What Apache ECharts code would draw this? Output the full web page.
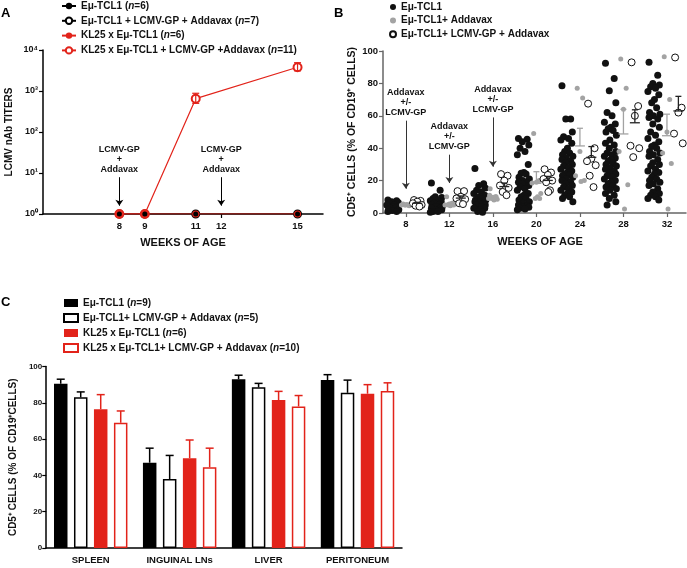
<!DOCTYPE html>
<html><head><meta charset="utf-8">
<script src="https://cdn.jsdelivr.net/npm/echarts@6/dist/echarts.min.js"></script>
<style>html,body{margin:0;padding:0;background:#fff}#c{width:687px;height:568px}</style>
</head><body><div id="c"></div>
<script>
// ---------- Panel A data ----------
const A_WEEKS = [8, 9, 11, 15];
const A_TCL1 = [1, 1, 1, 1];
const A_TCL1_VAX = [1, 1, 1, 1];
const A_KL25 = [1, 1, 1, 1];
const A_KL25_VAX = [1, 1, 650, 3800];
const A_KL25_VAX_LOW = [1, 1, 500, 3100];
const A_KL25_VAX_HIGH = [1, 1, 880, 4900];
const A_TICKS = [8, 9, 11, 12, 15];
const A_VACC_WEEKS = [8, 12];
const A_NAMES = ['Eμ-TCL1 ({i|n}=6)', 'Eμ-TCL1 + LCMV-GP + Addavax ({i|n}=7)', 'KL25 x Eμ-TCL1 ({i|n}=6)', 'KL25 x Eμ-TCL1 + LCMV-GP +Addavax ({i|n}=11)'];

// ---------- Panel B data ----------
const B_WEEKS = [8, 12, 16, 20, 24, 28, 32];
const B_TCL1 = [
  [8, 7.5, 7, 6.5, 6, 5, 5, 4, 4, 3, 3, 2, 2, 1.5, 1, 1],
  [18.5, 14, 10, 9.5, 9, 8, 7.5, 7, 6, 6, 5, 5, 4, 4, 3, 3, 2, 2, 1, 1, 0.5],
  [27.5, 18, 17, 15.5, 14, 13, 12, 11, 10, 9.5, 9, 8, 8, 7, 7, 6, 6, 5, 5, 4, 3, 3, 2, 1, 0.5],
  [46, 45.5, 44, 42, 40, 38, 36, 30, 25, 24.5, 24, 22, 21, 20, 19, 18.5, 18, 17, 16, 15, 14, 12, 11, 10, 9, 8, 7, 6, 5, 4.5, 4, 3.5, 3, 2.5, 2],
  [78.5, 58, 58, 50, 47, 46, 45, 43, 40, 38, 37, 36, 35, 34, 33, 32, 31, 30, 29, 28, 27, 26, 25, 24, 23.5, 23, 22, 21, 20, 19, 18, 17, 16, 15, 14, 13, 12, 11, 10, 9, 7],
  [92.5, 83, 75.5, 68, 62, 60, 56, 55, 53, 52, 51, 50, 48, 45, 43, 42, 40, 38, 37, 36, 35, 34, 33, 32, 31, 30, 29, 28, 27, 26, 25, 24, 23, 22, 21, 20, 19, 18, 17, 16, 15, 14, 12, 11, 9, 7, 5],
  [93, 85, 80, 79, 78, 77, 75, 73, 70, 68, 65, 62, 61, 60, 59, 58, 55, 53, 50, 48, 46, 44, 42, 41, 40, 38, 37, 36, 35, 33, 31, 30, 29, 27, 26, 25, 24, 22, 21, 20, 19, 18, 17, 15, 13, 12, 11, 10, 9, 8]
];
const B_VAX = [
  [5.5, 5, 5, 5, 4.8, 5.2, 5, 4.5],
  [10, 6, 5.5, 5, 5, 4.5, 5, 6],
  [15, 10, 9.5, 9, 8.5, 8, 9, 10, 11],
  [49, 20, 19, 18.5, 12, 10, 9, 9],
  [77, 71, 38, 23, 20, 19.5],
  [95, 77, 64, 38, 17.5, 2.5],
  [96.5, 70, 50, 37, 30.5, 2.5]
];
const B_GP = [
  [8, 7.5, 7, 6, 5, 4.5, 4],
  [13.5, 13.5, 10, 9, 8.5, 6, 5.5],
  [24, 23, 20, 17, 15.5, 13, 11],
  [27, 25, 23.5, 21, 20, 19, 14, 13],
  [67.5, 40, 33.5, 32, 29.5, 23, 16],
  [93, 66, 60, 41.5, 40, 34.5],
  [96, 65, 62, 49, 43]
];
const B_VAX_MEAN = [5, 5.5, 10, 18.3, 41.4, 48.8, 47.7];
const B_VAX_SEM = [0.3, 0.6, 0.8, 7.2, 10.9, 15.2, 13.3];
const B_GP_MEAN = [6, 9.2, 16.3, 20.1, 34.4, 55.7, 63];
const B_GP_SEM = [0.6, 1.3, 2.2, 2.5, 6.6, 8, 9];
const B_TICKS = [8, 12, 16, 20, 24, 28, 32];
const B_NAMES = ['Eμ-TCL1', 'Eμ-TCL1+ Addavax', 'Eμ-TCL1+ LCMV-GP + Addavax'];
const B_ARROWS = [[8, 57, 15], [12, 36, 18.5], [16, 59, 28.6]];

// ---------- Panel C data ----------
const C_CATS = ['SPLEEN', 'INGUINAL LNs', 'LIVER', 'PERITONEUM'];
const C_TCL1 = [90.5, 47, 93, 92.5];
const C_TCL1_SEM = [2.5, 8, 2.2, 3];
const C_TCL1_VAX = [83, 38, 88.5, 85.5];
const C_TCL1_VAX_SEM = [3, 13, 2.2, 7];
const C_KL25 = [76.5, 49.5, 81.5, 85];
const C_KL25_SEM = [8, 10, 4.8, 5];
const C_KL25_VAX = [69, 44.5, 78, 86.5];
const C_KL25_VAX_SEM = [6.5, 10.5, 6, 4.5];
const C_NAMES = ['Eμ-TCL1 ({i|n}=9)', 'Eμ-TCL1+ LCMV-GP + Addavax ({i|n}=5)', 'KL25 x Eμ-TCL1 ({i|n}=6)', 'KL25 x Eμ-TCL1+ LCMV-GP + Addavax ({i|n}=10)'];

// ---------- styling ----------
const FONT = '"Liberation Sans", Arial, Helvetica, sans-serif';
const RED = '#e2231a';
const GREY = '#a3a3a3';
const SUP = ['⁰', '¹', '²', '³', '⁴'];
const JB = [-0.45, 0.35, -0.1, 0.5, -0.3, 0.15, -0.55, 0.45, 0.05, -0.2, 0.25, -0.4, 0.55, -0.05];
const JG = [-0.25, 0.25, 0, -0.4, 0.4, 0.1, -0.1, 0.3, -0.3];
const JO = [-0.3, 0.3, 0, -0.4, 0.4, -0.15, 0.2, 0.05];
const richN = { i: { fontStyle: 'italic', fontWeight: 'bold', fontSize: 10, fontFamily: FONT } };
const legendText = { fontFamily: FONT, fontWeight: 'bold', fontSize: 10, color: '#111', lineHeight: 12, rich: richN };
const lbl = (s) => ({ fontFamily: FONT, fontWeight: 'bold', fontSize: s, color: '#111' });

const pair = (xs, ys) => xs.map((x, i) => [x, ys[i]]);

// Panel B scatter data
const bBlack = [], bGrey = [], bOpen = [];
B_WEEKS.forEach((w, i) => {
  B_TCL1[i].forEach((v, j) => bBlack.push([w - 1.2 + JB[j % JB.length], v]));
  B_VAX[i].forEach((v, j) => bGrey.push([w + JG[j % JG.length], v]));
  B_GP[i].forEach((v, j) => bOpen.push([w + 1.05 + JO[j % JO.length], v]));
});

function errMeanUp(params, api) {
  const x = api.value(0), m = api.value(1), s = api.value(2);
  const p0 = api.coord([x, m]), p1 = api.coord([x, m + s]);
  const col = api.visual('color');
  const st = { stroke: col, lineWidth: 1.3 };
  return { type: 'group', children: [
    { type: 'line', shape: { x1: p0[0], y1: p0[1], x2: p1[0], y2: p1[1] }, style: st },
    { type: 'line', shape: { x1: p0[0] - 5, y1: p0[1], x2: p0[0] + 5, y2: p0[1] }, style: st },
    { type: 'line', shape: { x1: p1[0] - 3, y1: p1[1], x2: p1[0] + 3, y2: p1[1] }, style: st }
  ] };
}

function errA(params, api) {
  const x = api.value(0), lo = api.value(1), hi = api.value(2);
  const p0 = api.coord([x, lo]), p1 = api.coord([x, hi]);
  const st = { stroke: RED, lineWidth: 1.2 };
  return { type: 'group', children: [
    { type: 'line', shape: { x1: p0[0], y1: p0[1], x2: p1[0], y2: p1[1] }, style: st },
    { type: 'line', shape: { x1: p0[0] - 3.5, y1: p0[1], x2: p0[0] + 3.5, y2: p0[1] }, style: st },
    { type: 'line', shape: { x1: p1[0] - 3.5, y1: p1[1], x2: p1[0] + 3.5, y2: p1[1] }, style: st }
  ] };
}

function errC(params, api) {
  const ci = api.value(0), v = api.value(1), s = api.value(2), k = api.value(3);
  const p0 = api.coord([ci, v]), p1 = api.coord([ci, v + s]);
  const x = p0[0] + (k - 1.5) * 20;
  const st = { stroke: k < 2 ? '#000' : RED, lineWidth: 1.5 };
  return { type: 'group', children: [
    { type: 'line', shape: { x1: x, y1: p0[1], x2: x, y2: p1[1] }, style: st },
    { type: 'line', shape: { x1: x - 4, y1: p1[1], x2: x + 4, y2: p1[1] }, style: st }
  ] };
}

const cErr = [];
[[C_TCL1, C_TCL1_SEM], [C_TCL1_VAX, C_TCL1_VAX_SEM], [C_KL25, C_KL25_SEM], [C_KL25_VAX, C_KL25_VAX_SEM]].forEach((p, k) => {
  p[0].forEach((v, ci) => cErr.push([ci, v, p[1][ci], k]));
});

const arrowLabel = (txt) => ({ show: true, position: 'start', formatter: txt, fontFamily: FONT, fontWeight: 'bold', fontSize: 9, lineHeight: 10, color: '#111', distance: 3 });

const axisBlack = { lineStyle: { color: '#000', width: 1.5 } };

const option = {
  animation: false,
  backgroundColor: '#fff',
  graphic: [
    { type: 'text', left: 1, top: 7, style: { text: 'A', font: 'bold 13px ' + FONT, fill: '#000' } },
    { type: 'text', left: 334, top: 7, style: { text: 'B', font: 'bold 13px ' + FONT, fill: '#000' } },
    { type: 'text', left: 1, top: 296, style: { text: 'C', font: 'bold 13px ' + FONT, fill: '#000' } }
  ],
  legend: [
    { data: [{ name: 'a0', lineStyle: { opacity: 1, color: '#000' } }, 'a1', 'a2', 'a3'], left: 61, top: 0, padding: 0, orient: 'vertical', itemWidth: 14, itemHeight: 8, itemGap: 2.8,
      formatter: (n) => A_NAMES[+n.slice(1)], textStyle: legendText, selectedMode: false },
    { data: ['b0', 'b1', 'b2'], left: 389, top: 1, padding: 0, orient: 'vertical', itemWidth: 6, itemHeight: 6, itemGap: 1.6,
      formatter: (n) => B_NAMES[+n.slice(1)], textStyle: legendText, selectedMode: false },
    { data: ['c0', 'c1', 'c2', 'c3'], left: 63, top: 297, padding: 0, orient: 'vertical', itemWidth: 14, itemHeight: 8, itemGap: 3, icon: 'rect',
      formatter: (n) => C_NAMES[+n.slice(1)], textStyle: legendText, selectedMode: false }
  ],
  grid: [
    { left: 43, right: 364, top: 50, bottom: 354 },
    { left: 383, right: 1, top: 51, bottom: 355 },
    { left: 31, right: 285, top: 366.5, bottom: 20 }
  ],
  xAxis: [
    { gridIndex: 0, type: 'value', min: 5, max: 16,
      axisLine: axisBlack, splitLine: { show: false },
      axisTick: { customValues: A_TICKS, length: 4, lineStyle: { color: '#000', width: 1.2 } },
      axisLabel: Object.assign({ customValues: A_TICKS, margin: 7 }, lbl(9.5)),
      name: 'WEEKS OF AGE', nameLocation: 'middle', nameGap: 23, nameTextStyle: lbl(11) },
    { gridIndex: 1, type: 'value', min: 5.9, max: 33.75,
      axisLine: { lineStyle: { color: '#666', width: 1.5 } }, splitLine: { show: false },
      axisTick: { customValues: B_TICKS, length: 4, lineStyle: { color: '#666', width: 1.2 } },
      axisLabel: Object.assign({ customValues: B_TICKS, margin: 6 }, lbl(9.5)),
      name: 'WEEKS OF AGE', nameLocation: 'middle', nameGap: 23, nameTextStyle: Object.assign({ padding: [0, 0, 0, 11] }, lbl(11)) },
    { gridIndex: 2, type: 'category', data: C_CATS,
      axisLine: axisBlack, splitLine: { show: false },
      axisTick: { alignWithLabel: true, length: 4, lineStyle: { color: '#000', width: 1.2 } },
      axisLabel: Object.assign({ margin: 7 }, lbl(9.5)) }
  ],
  yAxis: [
    { gridIndex: 0, type: 'log', logBase: 10, min: 1, max: 10000,
      axisLine: { show: true, lineStyle: { color: '#000', width: 1.5 } }, splitLine: { show: false }, minorTick: { show: false },
      axisTick: { show: true, length: 4, lineStyle: { color: '#000', width: 1.2 } },
      axisLabel: Object.assign({ formatter: (v) => '10' + SUP[Math.round(Math.log10(v))], margin: 5 }, lbl(9)),
      name: 'LCMV nAb TITERS', nameLocation: 'middle', nameGap: 29, nameTextStyle: lbl(10) },
    { gridIndex: 1, type: 'value', min: 0, max: 100, interval: 20,
      axisLine: { show: true, lineStyle: { color: '#666', width: 1.5 } }, splitLine: { show: false },
      axisTick: { show: true, length: 4, lineStyle: { color: '#666', width: 1.2 } },
      axisLabel: Object.assign({ margin: 5 }, lbl(9.5)),
      name: 'CD5⁺ CELLS (% OF CD19⁺ CELLS)', nameLocation: 'middle', nameGap: 25, nameTextStyle: lbl(10.5) },
    { gridIndex: 2, type: 'value', min: 0, max: 100, interval: 20,
      axisLine: { show: true, lineStyle: { color: '#000', width: 1.5 } }, splitLine: { show: false },
      axisTick: { show: true, length: 4, lineStyle: { color: '#000', width: 1.2 } },
      axisLabel: Object.assign({ margin: 4 }, lbl(8)),
      name: 'CD5⁺ CELLS (% OF CD19⁺CELLS)', nameLocation: 'middle', nameGap: 17, nameTextStyle: lbl(10) }
  ],
  series: [
    // Panel A
    { name: 'a1', type: 'line', xAxisIndex: 0, yAxisIndex: 0, data: pair(A_WEEKS, A_TCL1_VAX), symbol: 'emptyCircle', symbolSize: 7,
      itemStyle: { color: '#000', borderWidth: 1.2 }, lineStyle: { color: '#000', width: 1.2 }, z: 2 },
    { name: 'a3', type: 'line', xAxisIndex: 0, yAxisIndex: 0, data: pair(A_WEEKS, A_KL25_VAX), symbol: 'emptyCircle', symbolSize: 8,
      itemStyle: { color: RED, borderWidth: 1.4 }, lineStyle: { color: RED, width: 1.2 }, z: 3,
      markLine: { silent: true, symbol: ['none', 'arrow'], symbolSize: 6,
        lineStyle: { color: '#000', width: 1, type: 'solid' },
        label: arrowLabel('LCMV-GP\n+\nAddavax'),
        data: A_VACC_WEEKS.map((w) => [{ coord: [w, 7.9] }, { coord: [w, 1.6] }]) } },
    { name: 'a2', type: 'line', xAxisIndex: 0, yAxisIndex: 0, data: pair(A_WEEKS, A_KL25), symbol: 'circle', symbolSize: 7,
      itemStyle: { color: RED }, lineStyle: { color: RED, width: 1.2 }, z: 4 },
    { name: 'a0', type: 'line', xAxisIndex: 0, yAxisIndex: 0, data: pair(A_WEEKS, A_TCL1), symbol: 'circle', symbolSize: 5,
      itemStyle: { color: '#000' }, lineStyle: { color: '#000', width: 1.2, opacity: 0 }, z: 5 },
    { name: 'aErr', type: 'custom', xAxisIndex: 0, yAxisIndex: 0, renderItem: errA, z: 6,
      data: A_WEEKS.map((w, i) => [w, A_KL25_VAX_LOW[i], A_KL25_VAX_HIGH[i]]).filter((d) => d[2] > d[1]) },
    // Panel B
    { name: 'b0', type: 'scatter', xAxisIndex: 1, yAxisIndex: 1, data: bBlack, symbolSize: 7, itemStyle: { color: '#111', opacity: 1 },
      markLine: { silent: true, symbol: ['none', 'arrow'], symbolSize: 6,
        lineStyle: { color: '#333', width: 1, type: 'solid' },
        label: arrowLabel('Addavax\n+/-\nLCMV-GP'),
        data: B_ARROWS.map((a) => [{ coord: [a[0], a[1]] }, { coord: [a[0], a[2]] }]) } },
    { name: 'b1', type: 'scatter', xAxisIndex: 1, yAxisIndex: 1, data: bGrey, symbolSize: 5, itemStyle: { color: GREY, opacity: 1 } },
    { name: 'b2', type: 'scatter', xAxisIndex: 1, yAxisIndex: 1, data: bOpen, symbolSize: 7,
      itemStyle: { color: '#fff', borderColor: '#111', borderWidth: 1, opacity: 1 } },
    { name: 'bErrG', type: 'custom', xAxisIndex: 1, yAxisIndex: 1, renderItem: errMeanUp, itemStyle: { color: GREY }, z: 3,
      data: B_WEEKS.map((w, i) => [w, B_VAX_MEAN[i], B_VAX_SEM[i]]) },
    { name: 'bErrO', type: 'custom', xAxisIndex: 1, yAxisIndex: 1, renderItem: errMeanUp, itemStyle: { color: '#222' }, z: 3,
      data: B_WEEKS.map((w, i) => [w + 1.05, B_GP_MEAN[i], B_GP_SEM[i]]) },
    // Panel C
    { name: 'c0', type: 'bar', xAxisIndex: 2, yAxisIndex: 2, data: C_TCL1, barWidth: 13.5, barGap: '48%', itemStyle: { color: '#000' } },
    { name: 'c1', type: 'bar', xAxisIndex: 2, yAxisIndex: 2, data: C_TCL1_VAX, barWidth: 13.5, barGap: '48%', itemStyle: { color: '#fff', borderColor: '#000', borderWidth: 1.5 } },
    { name: 'c2', type: 'bar', xAxisIndex: 2, yAxisIndex: 2, data: C_KL25, barWidth: 13.5, barGap: '48%', itemStyle: { color: RED } },
    { name: 'c3', type: 'bar', xAxisIndex: 2, yAxisIndex: 2, data: C_KL25_VAX, barWidth: 13.5, barGap: '48%', itemStyle: { color: '#fff', borderColor: RED, borderWidth: 1.5 } },
    { name: 'cErr', type: 'custom', xAxisIndex: 2, yAxisIndex: 2, renderItem: errC, data: cErr, z: 3 }
  ]
};

const chart = echarts.init(document.getElementById('c'), null, { renderer: 'canvas' });
chart.setOption(option);
</script>
</body></html>
